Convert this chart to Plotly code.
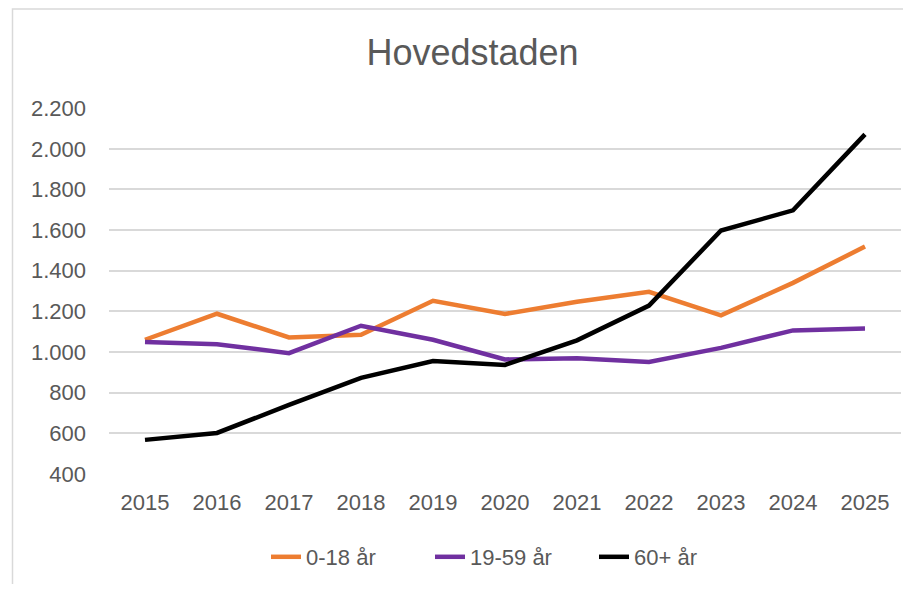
import plotly.graph_objects as go

years = ["2015", "2016", "2017", "2018", "2019", "2020", "2021", "2022", "2023", "2024", "2025"]
age_0_18 = [1060, 1188, 1071, 1085, 1252, 1187, 1247, 1296, 1180, 1340, 1519]
age_19_59 = [1049, 1038, 994, 1129, 1060, 963, 969, 951, 1020, 1106, 1115]
age_60_plus = [567, 601, 739, 872, 955, 936, 1057, 1228, 1598, 1697, 2071]

series_names = ["0-18 år", "19-59 år", "60+ år"]
series_colors = ["#ED7D31", "#7030A0", "#000000"]
series_values = [age_0_18, age_19_59, age_60_plus]

y_ticks = list(range(400, 2201, 200))

font_family = "Liberation Sans, Arial, sans-serif"
text_color = "#595959"
grid_color = "#d9d9d9"

fig = go.Figure()
for name, color, vals in zip(series_names, series_colors, series_values):
    fig.add_trace(go.Scatter(
        x=years, y=vals, name=name, mode="lines",
        line=dict(color=color, width=4.5, shape="linear"),
    ))

# page has an 8px body margin; work in page pixels and convert
OFF = 8
W, H = 911 - 2 * OFF, 592 - 2 * OFF
plot_l, plot_r, plot_t, plot_b = 109, 901, 108, 474
ml = plot_l - OFF
mr = W - (plot_r - OFF)
mt = plot_t - OFF
mb = H - (plot_b - OFF)
pw, ph = plot_r - plot_l, plot_b - plot_t

def px_x(p):
    return (p - plot_l) / pw

def px_y(p):
    return (plot_b - p) / ph

fig.update_layout(
    width=W, height=H,
    margin=dict(l=ml, r=mr, t=mt, b=mb),
    paper_bgcolor="white", plot_bgcolor="white",
    separators=",.",
    font=dict(family=font_family, color=text_color, size=22),
    title=dict(
        text="Hovedstaden", x=(472.5 - OFF) / W, xref="container", xanchor="center",
        y=1 - (52 - OFF) / H, yref="container", yanchor="middle",
        font=dict(size=36, color=text_color, family=font_family),
    ),
    xaxis=dict(
        type="category", range=[-0.5, len(years) - 0.5],
        showgrid=False, showline=False, zeroline=False,
        ticks="", tickfont=dict(size=22, color=text_color),
        ticklabelstandoff=13,
    ),
    yaxis=dict(
        range=[399, 2201], tickvals=y_ticks, tickformat=",d",
        showgrid=True, gridcolor=grid_color, gridwidth=1.5,
        zeroline=False, showline=False, ticks="",
        tickfont=dict(size=22, color=text_color),
        ticklabelstandoff=22,
    ),
    legend=dict(
        orientation="h", x=px_x(266), xanchor="left",
        y=px_y(557), yanchor="middle",
        font=dict(size=22, color=text_color),
        entrywidth=119, entrywidthmode="pixels",
        traceorder="normal", bgcolor="rgba(0,0,0,0)",
    ),
    showlegend=True,
)

fig.add_shape(
    type="rect", xref="paper", yref="paper",
    x0=px_x(12.5), x1=px_x(940), y0=px_y(620), y1=px_y(9),
    line=dict(color=grid_color, width=1.5), fillcolor="rgba(0,0,0,0)",
    layer="below",
)

fig.write_html("out.html")
